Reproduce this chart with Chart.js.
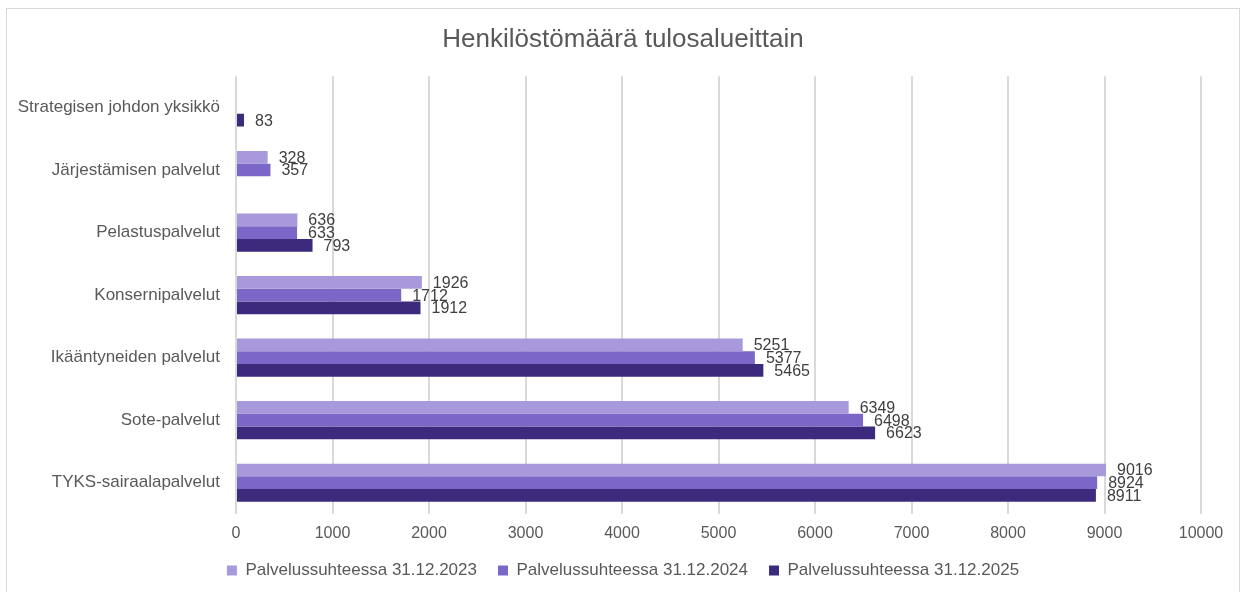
<!DOCTYPE html>
<html>
<head>
<meta charset="utf-8">
<script src="https://cdn.jsdelivr.net/npm/chart.js@4"></script>
<style>
  body { margin: 0; background: #fff; }
  #wrap { position: absolute; left: 6px; top: 8px; width: 1232px; height: 590px; border: 1px solid #d9d9d9; border-bottom: none; }
</style>
</head>
<body>
<div id="wrap"><canvas id="chart" width="1232" height="590"></canvas></div>
<script>
// tulosalueet (ylhäältä alas)
let categories = ['Strategisen johdon yksikkö', 'Järjestämisen palvelut', 'Pelastuspalvelut', 'Konsernipalvelut', 'Ikääntyneiden palvelut', 'Sote-palvelut', 'TYKS-sairaalapalvelut'];
let values2023 = [null, 328, 636, 1926, 5251, 6349, 9016];
let values2024 = [null, 357, 633, 1712, 5377, 6498, 8924];
let values2025 = [83, null, 793, 1912, 5465, 6623, 8911];
let seriesNames = ['Palvelussuhteessa 31.12.2023', 'Palvelussuhteessa 31.12.2024', 'Palvelussuhteessa 31.12.2025'];
let xTicks = [0, 1000, 2000, 3000, 4000, 5000, 6000, 7000, 8000, 9000, 10000];

let colors = ['#a898dc', '#7b67c8', '#3c2a7c'];
let font = 'Liberation Sans, Arial, sans-serif';

// arvot palkkien perään
let valueLabels = {
    id: 'valueLabels',
    afterDatasetsDraw(chart) {
        let c = chart.ctx;
        c.save();
        c.font = '16px ' + font;
        c.fillStyle = '#404040';
        c.textBaseline = 'middle';
        chart.data.datasets.forEach(function(ds, i){
            let meta = chart.getDatasetMeta(i);
            meta.data.forEach(function(bar, j){
                if (ds.data[j] == null) return;
                c.fillText(ds.data[j], bar.x + 11, bar.y + 1);
            });
        });
        c.restore();
    }
};

let ctx = document.getElementById('chart');
let chart = new Chart(ctx, {
    type: 'bar',
    plugins: [valueLabels],
    data: {
        labels: categories,
        datasets: [
            { label: seriesNames[0], data: values2023, backgroundColor: colors[0], yAxisID: 'y' },
            { label: seriesNames[1], data: values2024, backgroundColor: colors[1], yAxisID: 'y' },
            { label: seriesNames[2], data: values2025, backgroundColor: colors[2], yAxisID: 'y' }
        ]
    },
    options: {
        responsive: false,
        animation: false,
        indexAxis: 'y',
        layout: { padding: { left: 0, right: 0, top: 0, bottom: 10 } },
        datasets: { bar: { barPercentage: 1, categoryPercentage: 0.61 } },
        plugins: {
            title: {
                display: true,
                text: 'Henkilöstömäärä tulosalueittain',
                color: '#595959',
                font: { family: font, size: 26, weight: 'normal' },
                padding: { top: 15, bottom: 21 }
            },
            legend: {
                position: 'bottom',
                labels: {
                    color: '#595959',
                    font: { family: font, size: 17 },
                    boxWidth: 10,
                    boxHeight: 10,
                    padding: 21
                }
            },
            tooltip: { enabled: false }
        },
        scales: {
            x: {
                min: 0,
                max: 10000,
                afterBuildTicks: function(scale){ scale.ticks = xTicks.map(v => ({ value: v })); },
                afterFit: function(scale){ scale.height = 27; },
                grid: { color: '#d9d9d9', lineWidth: 2, tickLength: 0, drawTicks: false },
                border: { display: false },
                ticks: {
                    color: '#595959',
                    font: { family: font, size: 16 },
                    padding: 10,
                    callback: function(v){ return String(v); }
                }
            },
            y: {
                afterFit: function(scale){ scale.width = 229; },
                grid: { display: false, drawTicks: false },
                border: { display: false },
                ticks: { color: '#595959', font: { family: font, size: 17 }, padding: 16 }
            },
            // tyhjä tila oikealle, jotta otsikko ja selite pysyvät keskellä
            y2: {
                type: 'linear',
                position: 'right',
                afterFit: function(scale){ scale.width = 38; },
                grid: { display: false, drawTicks: false },
                border: { display: false },
                ticks: { display: false }
            }
        }
    }
});
</script>
</body>
</html>
